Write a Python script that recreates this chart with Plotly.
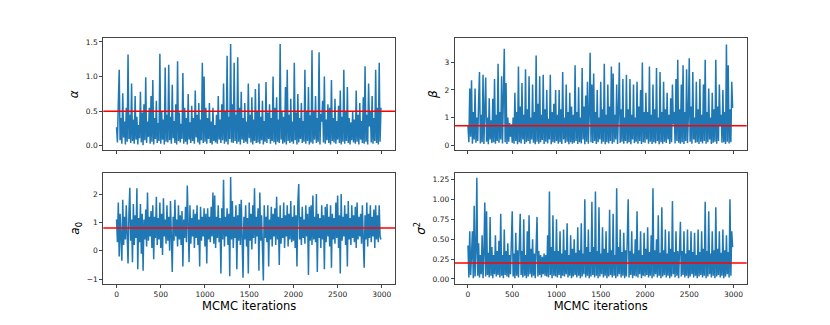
import plotly.graph_objects as go
from plotly.subplots import make_subplots

# MCMC traces (one value every 10 iterations)
alpha_trace = [
    0.27, 0.05, 0.62, 1.1, 0.08, 0.4, 0.03, 0.76, 0.12, 0.35, 0.02, 0.55, 0.06, 1.32, 0.1, 0.45, 0.04, 0.9, 0.07, 0.38,
    0.03, 0.72, 0.09, 0.42, 0.02, 0.3, 0.11, 0.78, 0.05, 0.48, 0.01, 0.6, 0.08, 0.99, 0.04, 0.35, 0.13, 0.55, 0.03, 0.72,
    0.06, 0.95, 0.02, 0.4, 0.1, 0.65, 0.04, 0.33, 0.07, 1.33, 0.03, 0.5, 0.09, 0.38, 0.02, 1.13, 0.06, 0.45, 0.05, 1.17,
    0.08, 0.42, 0.03, 0.88, 0.11, 0.36, 0.04, 0.6, 0.02, 1.22, 0.07, 0.48, 0.05, 0.32, 0.1, 1.05, 0.03, 0.55, 0.06, 0.4,
    0.02, 0.75, 0.09, 0.34, 0.04, 0.58, 0.07, 0.4, 0.03, 0.8, 0.12, 0.45, 0.05, 0.62, 0.02, 0.38, 0.08, 1.2, 0.04, 1.0,
    0.06, 0.55, 0.03, 0.4, 0.1, 0.62, 0.04, 0.35, 0.02, 0.55, 0.07, 0.3, 0.05, 0.45, 0.03, 0.72, 0.09, 0.38, 0.04, 0.6,
    0.08, 0.9, 0.03, 0.5, 0.06, 1.3, 0.02, 0.42, 0.1, 1.47, 0.05, 0.6, 0.04, 1.2, 0.07, 0.45, 0.03, 1.28, 0.06, 0.55,
    0.02, 0.78, 0.09, 0.4, 0.04, 0.62, 0.06, 0.35, 0.03, 0.9, 0.11, 0.45, 0.05, 0.7, 0.02, 0.38, 0.07, 0.82, 0.04, 0.5,
    0.05, 0.9, 0.03, 0.42, 0.08, 0.65, 0.02, 0.36, 0.06, 0.92, 0.04, 0.48, 0.1, 0.6, 0.03, 0.4, 0.07, 1.0, 0.05, 0.55,
    0.02, 0.7, 0.06, 0.38, 0.04, 1.47, 0.09, 0.5, 0.03, 0.42, 0.05, 0.85, 0.02, 1.1, 0.07, 0.45, 0.04, 0.68, 0.06, 0.35,
    0.03, 1.2, 0.08, 0.48, 0.02, 0.75, 0.05, 0.4, 0.1, 0.62, 0.04, 0.36, 0.06, 1.1, 0.03, 0.5, 0.07, 0.85, 0.02, 0.44,
    0.05, 1.38, 0.03, 0.5, 0.09, 0.72, 0.04, 0.4, 0.06, 1.35, 0.02, 0.46, 0.35, 0.65, 0.05, 1.0, 0.03, 0.38, 0.08, 0.6,
    0.04, 0.55, 0.02, 0.95, 0.07, 0.4, 0.05, 0.68, 0.03, 0.36, 0.09, 0.58, 0.04, 0.8, 0.02, 0.42, 0.06, 1.1, 0.03, 0.5,
    0.07, 0.85, 0.04, 0.4, 0.02, 0.34, 0.08, 0.5, 0.05, 0.38, 0.03, 0.8, 0.06, 0.45, 0.02, 0.62, 0.09, 0.36, 0.04, 0.7,
    0.03, 1.15, 0.06, 0.45, 0.02, 0.9, 0.28, 0.5, 0.05, 0.72, 0.03, 0.4, 0.07, 1.1, 0.04, 0.55, 0.02, 1.2, 0.06, 0.55,
]
beta_trace = [
    0.7, 0.1, 2.05, 0.3, 2.35, 0.05, 1.2, 0.2, 2.05, 0.08, 1.0, 0.15, 1.6, 2.65, 0.06, 1.1, 0.1, 2.55, 0.04, 1.3,
    2.45, 0.12, 1.0, 0.03, 1.7, 0.2, 0.9, 0.07, 1.68, 0.1, 2.4, 0.05, 1.1, 0.15, 2.95, 0.08, 1.2, 0.2, 2.5, 0.06,
    1.3, 3.5, 0.1, 2.25, 0.04, 1.0, 0.12, 0.8, 0.3, 0.75, 0.08, 1.0, 0.05, 1.9, 0.15, 1.2, 0.03, 2.85, 0.1, 1.4,
    0.06, 2.25, 0.2, 1.1, 0.04, 2.75, 0.1, 1.3, 0.15, 2.5, 0.05, 1.0, 0.2, 2.2, 0.08, 1.2, 0.03, 3.25, 0.12, 1.5,
    0.05, 2.5, 0.1, 1.1, 0.18, 2.55, 0.04, 1.3, 0.12, 2.0, 0.06, 0.95, 0.2, 2.55, 0.03, 1.2, 0.1, 1.5, 0.08, 2.0,
    0.15, 1.1, 0.05, 2.0, 0.1, 1.3, 0.04, 2.65, 0.2, 1.0, 0.07, 2.2, 0.12, 1.2, 0.03, 1.9, 0.1, 1.4, 0.05, 1.1,
    0.08, 2.9, 0.15, 1.2, 0.04, 2.1, 0.1, 1.0, 0.06, 2.8, 0.2, 1.4, 0.03, 1.8, 0.12, 2.3, 0.05, 1.1, 3.35, 0.1,
    2.2, 0.07, 2.6, 0.15, 1.2, 0.04, 2.0, 0.1, 1.0, 0.2, 2.3, 0.05, 1.3, 0.12, 2.95, 0.03, 1.1, 0.1, 2.2, 0.06,
    1.4, 0.15, 2.85, 0.05, 2.6, 0.1, 1.1, 0.2, 2.2, 0.04, 1.2, 3.0, 0.08, 1.3, 0.12, 2.4, 0.05, 1.0, 0.15, 2.55,
    0.06, 1.3, 0.1, 2.4, 0.03, 1.1, 0.2, 2.2, 0.07, 1.0, 0.12, 2.3, 0.05, 1.4, 0.15, 2.0, 0.04, 3.0, 0.1, 1.2,
    0.08, 1.9, 0.2, 1.2, 0.05, 2.85, 0.12, 1.1, 0.04, 2.2, 0.1, 1.3, 0.06, 2.8, 0.15, 1.0, 0.03, 2.65, 0.1, 1.2,
    0.05, 2.3, 0.12, 1.3, 0.07, 1.9, 0.2, 1.1, 0.04, 1.7, 0.1, 2.2, 0.75, 1.2, 0.06, 2.4, 0.15, 3.1, 0.08, 1.3,
    0.05, 2.2, 0.1, 2.9, 0.04, 1.2, 0.15, 2.75, 0.07, 1.1, 3.15, 0.12, 1.4, 0.05, 2.65, 0.2, 1.0, 0.08, 2.3, 0.1,
    1.3, 0.04, 2.4, 0.12, 1.1, 0.06, 2.2, 0.15, 3.1, 0.05, 1.2, 0.1, 2.05, 0.2, 1.0, 0.04, 1.9, 0.08, 1.3, 0.12,
    3.1, 0.05, 1.4, 0.15, 2.2, 0.7, 1.1, 0.08, 2.0, 0.1, 1.2, 0.04, 3.65, 0.12, 2.9, 0.06, 1.3, 0.1, 2.3, 1.35,
]
a0_trace = [
    1.1, 0.3, 1.7, -0.2, 1.3, 0.5, -0.35, 1.8, 0.2, 1.2, 0.4, 1.6, 0.1, -0.45, 1.3, 2.22, 0.35, 1.1, -0.4, 1.65,
    0.2, 1.25, 0.45, 2.2, -0.65, 1.15, 0.3, 1.65, -0.1, 1.3, -0.7, 1.1, 0.4, 1.45, 0.15, 2.05, 0.35, 1.2, 0.5, 1.4,
    0.1, 1.6, -0.3, 1.2, 0.45, 1.9, 0.2, 1.15, 0.4, 1.7, 0.1, 1.3, -0.15, 1.85, 0.5, 1.1, 0.25, 1.6, 0.35, 1.2,
    0.0, 1.75, 0.45, -0.75, 1.2, 0.35, 1.8, 0.5, 1.1, 0.15, 1.6, 0.4, 1.25, 0.2, 1.4, -0.55, 1.1, 0.45, 1.55, 0.3,
    2.3, 0.4, -0.4, 1.6, 0.25, 1.15, 0.5, 1.45, 0.1, 1.3, 0.45, 1.6, 0.2, 1.1, -0.55, 1.55, 0.35, 1.2, 0.5, 1.5,
    0.15, 1.3, -0.45, 1.5, 0.4, 1.2, 0.3, 1.55, 0.5, 2.05, 0.25, 1.95, 0.1, 1.2, 0.45, 1.6, 0.3, 1.15, -0.8, 1.5,
    0.4, 2.5, 0.15, 1.2, 0.5, 1.5, 0.2, 1.3, -0.9, 2.6, 0.4, 1.75, 0.1, 1.2, 0.45, 1.6, -0.65, 1.25, 0.35, 1.65,
    0.2, 1.8, 0.5, -0.95, 1.2, 0.4, 1.6, 0.15, 1.15, -0.8, 1.7, 0.35, 1.3, 0.05, 1.6, 0.45, 2.2, 0.25, 1.2, 0.5,
    1.5, -0.7, 2.05, 0.35, 1.25, 0.1, -1.05, 1.6, 0.45, 1.2, 0.3, 1.6, -0.55, 1.1, 0.4, 1.55, 0.15, 1.3, 0.5, 1.5,
    0.2, 1.9, 0.4, 1.2, -0.5, 1.6, 0.25, 1.15, 0.45, 1.7, 0.1, 1.25, 0.5, 1.6, 0.15, 1.3, 0.4, 1.75, 0.3, 1.2,
    0.35, 1.6, 0.1, 1.25, -0.55, 1.7, 2.35, 0.4, 1.2, 0.2, 1.55, 0.45, 1.1, 0.25, 1.6, 0.5, 1.3, -0.85, 1.55, 0.35,
    1.6, 0.2, 1.95, 0.4, 1.2, 0.3, 2.0, -0.75, 1.3, 0.45, 1.15, 0.1, 1.6, 0.4, 1.25, -0.65, 1.55, 0.3, 1.65, 0.5,
    1.2, 0.15, 1.6, -0.6, 1.3, 0.4, 1.15, 0.25, 1.7, 0.45, 1.95, 0.1, 1.25, -0.8, 2.0, 0.35, 1.2, 0.5, 1.6, 0.2,
    1.3, -0.55, 1.75, 0.4, 1.15, 0.2, 1.6, 0.45, 1.25, 0.3, 1.55, 0.1, 1.7, 0.4, 1.2, 0.5, 1.3, 0.25, 1.6, 0.35,
    -0.6, 1.25, 0.4, 1.7, 0.15, 1.3, 0.45, 1.6, 0.3, 1.2, 0.5, 1.45, 0.1, 1.6, 0.4, 1.25, 0.3, 1.6, 0.5, 0.4,
]
sigma2_trace = [
    0.42, 0.02, 0.6, 0.05, 0.3, 0.6, 0.01, 0.92, 0.03, 0.35, 1.27, 0.04, 0.45, 0.02, 0.3, 0.06, 0.55, 0.01, 0.32, 0.96,
    0.03, 0.85, 0.05, 0.33, 0.02, 0.78, 0.04, 0.4, 0.01, 0.3, 0.06, 0.55, 0.03, 0.35, 0.05, 0.48, 0.02, 0.82, 0.04, 0.3,
    0.01, 0.62, 0.05, 0.35, 0.03, 0.45, 0.02, 0.3, 0.06, 0.5, 0.85, 0.03, 0.32, 0.01, 0.58, 0.04, 0.36, 0.02, 0.45, 0.82,
    0.05, 0.35, 0.02, 0.75, 0.04, 0.3, 0.01, 0.6, 0.03, 0.8, 0.06, 0.38, 0.02, 0.5, 0.04, 0.32, 0.01, 0.45, 0.78, 0.03,
    0.35, 0.05, 0.3, 0.02, 0.28, 0.06, 0.32, 0.04, 0.3, 0.03, 0.55, 0.02, 1.1, 0.05, 0.4, 0.01, 0.8, 0.04, 0.35, 0.03,
    0.75, 0.02, 0.35, 0.05, 0.6, 0.01, 0.32, 0.04, 0.62, 0.03, 0.36, 0.06, 0.7, 0.02, 0.3, 0.04, 0.55, 0.01, 0.38, 0.03,
    0.5, 0.05, 0.33, 0.02, 0.65, 0.04, 0.36, 0.01, 0.7, 0.03, 0.32, 0.06, 1.0, 0.02, 0.4, 0.04, 0.62, 0.01, 0.34, 0.03,
    0.97, 0.05, 0.4, 0.02, 1.1, 0.04, 0.35, 0.01, 0.9, 0.03, 0.32, 0.06, 0.65, 0.02, 0.38, 0.04, 0.6, 0.01, 0.33, 0.03,
    0.87, 0.05, 0.36, 0.02, 0.82, 0.04, 0.3, 0.01, 1.14, 0.03, 0.4, 0.06, 0.62, 0.02, 0.34, 0.04, 0.58, 0.01, 0.36, 0.03,
    0.5, 1.0, 0.02, 0.35, 0.05, 0.6, 0.01, 0.32, 0.04, 0.5, 0.03, 0.85, 0.02, 0.36, 0.06, 0.6, 0.01, 0.3, 0.04, 0.58,
    0.03, 0.38, 0.05, 0.65, 0.02, 0.34, 0.04, 0.55, 0.01, 1.14, 0.03, 0.36, 0.06, 0.5, 0.02, 0.8, 0.04, 0.33, 0.01, 0.9,
    0.03, 0.36, 0.05, 0.62, 0.02, 0.32, 0.04, 0.6, 0.01, 0.38, 0.03, 0.98, 0.06, 0.34, 0.02, 0.6, 0.04, 0.35, 0.01, 0.58,
    0.72, 0.03, 0.35, 0.05, 0.6, 0.02, 0.32, 0.04, 0.62, 0.01, 0.36, 0.03, 0.6, 0.06, 0.34, 0.02, 0.58, 0.04, 0.3, 0.01,
    0.62, 0.03, 0.34, 0.05, 0.6, 0.02, 0.38, 0.04, 0.97, 0.01, 0.35, 0.03, 0.85, 0.06, 0.32, 0.02, 0.6, 0.04, 0.36, 0.01,
    0.9, 0.03, 0.38, 0.05, 0.6, 0.02, 0.33, 0.04, 0.62, 0.01, 0.36, 0.03, 0.55, 0.06, 0.34, 0.02, 1.0, 0.04, 0.6, 0.4,
]

# true parameter values (red lines)
alpha_true = 0.5
beta_true = 0.7
a0_true = 0.8
sigma2_true = 0.2

thin = 10
xticks = [0, 500, 1000, 1500, 2000, 2500, 3000]

panels = [
    (1, 1, alpha_trace, alpha_true, "<i>α</i>", [-0.06, 1.55], [0, 0.5, 1.0, 1.5], ".1f"),
    (1, 2, beta_trace, beta_true, "<i>β</i>", [-0.18, 3.87], [0, 1, 2, 3], "d"),
    (2, 1, a0_trace, a0_true, "<i>a</i><sub>0</sub>", [-1.17, 2.75], [-1, 0, 1, 2], "d"),
    (2, 2, sigma2_trace, sigma2_true, "<i>σ</i><sup>2</sup>", [-0.063, 1.335],
     [0, 0.25, 0.5, 0.75, 1.0, 1.25], ".2f"),
]

fig = make_subplots(rows=2, cols=2)

# page body adds an 8px offset, so domains are shifted up/left to compensate
xdom = {1: [0.1148, 0.4663], 2: [0.5382, 0.8900]}
ydom = {1: [0.5631, 0.9062], 2: [0.1508, 0.4932]}

axis_style = dict(showline=True, linecolor="#444", linewidth=1, mirror=True,
                  ticks="outside", ticklen=3, tickcolor="#444", showgrid=False,
                  zeroline=False, tickfont=dict(size=7.5, color="#222"))

for row, col, trace, true_val, label, yrange, yticks, fmt in panels:
    iters = [thin * i for i in range(len(trace))]
    fig.add_trace(go.Scatter(x=iters, y=trace, mode="lines",
                             line=dict(color="#1f77b4", width=1.5),
                             showlegend=False), row=row, col=col)
    fig.add_hline(y=true_val, line=dict(color="red", width=1.6), row=row, col=col)
    fig.update_xaxes(domain=xdom[col], range=[-150, 3149], tickvals=xticks,
                     showticklabels=(row == 2), **axis_style, row=row, col=col)
    fig.update_yaxes(domain=ydom[row], range=yrange, tickvals=yticks, tickformat=fmt,
                     title=dict(text=label, font=dict(size=12, color="black"), standoff=4),
                     **axis_style, row=row, col=col)
    if row == 2:
        fig.update_xaxes(title=dict(text="MCMC iterations", font=dict(size=11.5, color="black"),
                                    standoff=3), row=row, col=col)

fig.update_layout(width=830, height=325, margin=dict(l=0, r=0, t=0, b=0),
                  paper_bgcolor="white", plot_bgcolor="white",
                  font=dict(family="DejaVu Sans"))

fig.write_html("out.html")
